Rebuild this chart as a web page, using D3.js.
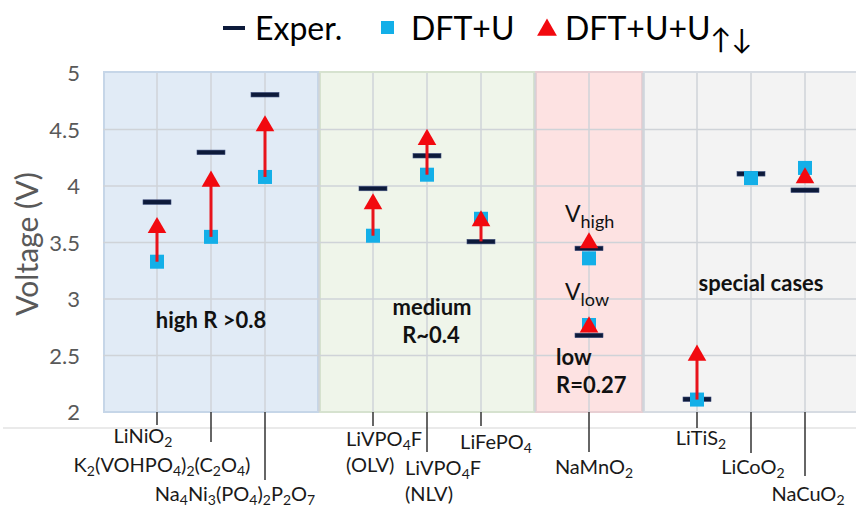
<!DOCTYPE html>
<html lang="en">
<head>
  <meta charset="UTF-8" />
  <title>Voltage comparison</title>
  <style>
    body { margin: 0; background: white; }
    svg { display: block; font-family: 'Lato', 'Open Sans', sans-serif; }
  </style>
  <script src="https://d3js.org/d3.v7.min.js"></script>
</head>
<body>
  <div id="chart"></div>
  <script>
    // data
    const pointX = [1, 2, 3, 5, 6, 7, 9, 9, 11, 12, 13];
    const exper  = [3.86, 4.30, 4.81, 3.98, 4.27, 3.51, 3.45, 2.68, 2.115, 4.11, 3.965];
    const dftU   = [3.33, 3.55, 4.08, 3.56, 4.10, 3.71, 3.36, 2.77, 2.11, 4.07, 4.16];
    const dftUU  = [3.64, 4.05, 4.54, 3.85, 4.42, 3.70, 3.505, 2.76, 2.51, null, 4.08];
    const arrowFrom = [3.33, 3.55, 4.08, 3.56, 4.10, 3.51, null, null, 2.11, null, null];

    const catX = [1, 2, 3, 5, 6, 7, 9, 11, 12, 13];
    const catLabels = [
      ["LiNiO_2"],
      ["K_2(VOHPO_4)_2(C_2O_4)"],
      ["Na_4Ni_3(PO_4)_2P_2O_7"],
      ["LiVPO_4F", "(OLV)"],
      ["LiVPO_4F", "(NLV)"],
      ["LiFePO_4"],
      ["NaMnO_2"],
      ["LiTiS_2"],
      ["LiCoO_2"],
      ["NaCuO_2"]
    ];
    // leader line end (px below axis) and label placement
    const leaderLen = [13, 30, 68, 14, 40, 14, 40, 16, 41, 64];
    const labelPos = [
      {x: 143, y: 443, anchor: "middle"},
      {x: 162, y: 472, anchor: "middle"},
      {x: 235, y: 501, anchor: "middle"},
      {x: 346, y: 446, anchor: "start"},
      {x: 405, y: 475, anchor: "start"},
      {x: 496, y: 449, anchor: "middle"},
      {x: 594, y: 474, anchor: "middle"},
      {x: 701, y: 445, anchor: "middle"},
      {x: 753, y: 474, anchor: "middle"},
      {x: 808, y: 501, anchor: "middle"}
    ];

    const regions = [
      {from: 0, to: 4, fill: "#e1ebf6", stroke: "#c6d6e8"},
      {from: 4, to: 8, fill: "#eff5ea", stroke: "#d6e2cf"},
      {from: 8, to: 10, fill: "#fde2e2", stroke: "#e8cfd3"},
      {from: 10, to: 14, fill: "#f3f3f3", stroke: "#d6dbe2"}
    ];
    const yTicks = [2, 2.5, 3, 3.5, 4, 4.5, 5];

    const width = 856, height = 508;
    const x = d3.scaleLinear().domain([0, 14]).range([103, 859]);
    const y = d3.scaleLinear().domain([2, 5]).range([412, 73]);

    const svg = d3.select("#chart").append("svg")
      .attr("width", width).attr("height", height);

    // write "A_2B" style text with subscripts into a text element
    function richText(sel, str, subSize) {
      const parts = str.split(/(_.)/).filter(s => s.length);
      let sub = false;
      parts.forEach(p => {
        if (p[0] === "_") {
          sel.append("tspan").attr("dy", sub ? 0 : 4).attr("font-size", subSize).text(p.slice(1));
          sub = true;
        } else {
          sel.append("tspan").attr("dy", sub ? -4 : 0).text(p);
          sub = false;
        }
      });
    }

    // background regions
    svg.append("g").selectAll("rect").data(regions).enter().append("rect")
      .attr("x", d => x(d.from) + 1)
      .attr("y", y(5) - 1)
      .attr("width", d => x(d.to) - x(d.from) - 2)
      .attr("height", y(2) - y(5) + 1)
      .attr("fill", d => d.fill)
      .attr("stroke", d => d.stroke)
      .attr("stroke-width", 2);

    // grid
    const grid = svg.append("g").attr("stroke", "#cfd3d8").attr("stroke-width", 1.5);
    grid.selectAll("line.h").data(yTicks.slice(1, -1)).enter().append("line")
      .attr("x1", x(0)).attr("x2", width).attr("y1", d => y(d)).attr("y2", d => y(d));
    grid.selectAll("line.v").data(d3.range(1, 14)).enter().append("line")
      .attr("y1", y(5)).attr("y2", y(2)).attr("x1", d => x(d)).attr("x2", d => x(d));

    // y axis labels
    svg.append("g").selectAll("text").data(yTicks).enter().append("text")
      .attr("x", 80).attr("y", d => y(d) + 8)
      .attr("text-anchor", "end")
      .attr("font-size", 22).attr("fill", "#595959")
      .text(d => d);

    svg.append("text")
      .attr("transform", "translate(38,244) rotate(-90)")
      .attr("text-anchor", "middle")
      .attr("font-size", 30).attr("fill", "#595959")
      .text("Voltage (V)");

    // faint category axis line
    svg.append("line").attr("x1", 3).attr("x2", width).attr("y1", 428).attr("y2", 428)
      .attr("stroke", "#e3e3e3").attr("stroke-width", 1.5);

    // leader lines and category labels
    svg.append("g").selectAll("line").data(catX).enter().append("line")
      .attr("x1", d => x(d)).attr("x2", d => x(d))
      .attr("y1", y(2)).attr("y2", (d, i) => y(2) + leaderLen[i])
      .attr("stroke", "#333").attr("stroke-width", 1.5);

    catLabels.forEach((lines, i) => {
      const p = labelPos[i];
      lines.forEach((ln, j) => {
        const t = svg.append("text")
          .attr("x", p.x).attr("y", p.y + j * 26)
          .attr("text-anchor", p.anchor)
          .attr("font-size", 20).attr("fill", "#1a1a1a");
        richText(t, ln, 14);
      });
    });

    // marks
    const idx = d3.range(pointX.length);
    svg.append("g").selectAll("rect").data(idx).enter().append("rect")
      .attr("x", i => x(pointX[i]) - 14).attr("y", i => y(exper[i]) - 2)
      .attr("width", 28).attr("height", 4.5)
      .attr("fill", "#0d1a3a").attr("stroke", "#3a4a78").attr("stroke-width", 0.6);

    svg.append("g").selectAll("rect").data(idx).enter().append("rect")
      .attr("x", i => x(pointX[i]) - 7).attr("y", i => y(dftU[i]) - 7)
      .attr("width", 14).attr("height", 14)
      .attr("fill", "#13afe8");

    svg.append("g").selectAll("line").data(idx.filter(i => arrowFrom[i] != null)).enter().append("line")
      .attr("x1", i => x(pointX[i])).attr("x2", i => x(pointX[i]))
      .attr("y1", i => y(arrowFrom[i])).attr("y2", i => y(dftUU[i]))
      .attr("stroke", "#e8131b").attr("stroke-width", 3);

    const tri = d3.symbol().type(d3.symbolTriangle).size(150);
    svg.append("g").selectAll("path").data(idx.filter(i => dftUU[i] != null)).enter().append("path")
      .attr("d", tri)
      .attr("transform", i => `translate(${x(pointX[i])},${y(dftUU[i]) + 1})`)
      .attr("fill", "#f2090f");

    // region annotations
    const bold = [
      {t: "high R >0.8", x: 211, y: 328, a: "middle"},
      {t: "medium", x: 432, y: 315, a: "middle"},
      {t: "R~0.4", x: 431, y: 343, a: "middle"},
      {t: "low", x: 556, y: 365, a: "start"},
      {t: "R=0.27", x: 556, y: 393, a: "start"},
      {t: "special cases", x: 761, y: 291, a: "middle"}
    ];
    svg.append("g").selectAll("text").data(bold).enter().append("text")
      .attr("x", d => d.x).attr("y", d => d.y).attr("text-anchor", d => d.a)
      .attr("font-size", 22).attr("font-weight", "bold").attr("fill", "#111")
      .text(d => d.t);

    [["V", "high", 222], ["V", "low", 300]].forEach(v => {
      const t = svg.append("text").attr("x", 565).attr("y", v[2])
        .attr("font-size", 23).attr("fill", "#111");
      t.append("tspan").text(v[0]);
      t.append("tspan").attr("dy", 6).attr("font-size", 18).text(v[1]);
    });

    // legend
    const lg = svg.append("g");
    lg.append("rect").attr("x", 223).attr("y", 26).attr("width", 22).attr("height", 4).attr("fill", "#0d1a3a");
    lg.append("text").attr("x", 255).attr("y", 40).attr("font-size", 32).text("Exper.");
    lg.append("rect").attr("x", 381).attr("y", 21).attr("width", 13).attr("height", 13).attr("fill", "#13afe8");
    lg.append("text").attr("x", 411).attr("y", 40).attr("font-size", 32).text("DFT+U");
    lg.append("path").attr("d", d3.symbol().type(d3.symbolTriangle).size(170))
      .attr("transform", "translate(547,30)").attr("fill", "#f2090f");
    const lt = lg.append("text").attr("x", 565).attr("y", 40).attr("font-size", 32);
    lt.append("tspan").text("DFT+U+U");
    lt.append("tspan").attr("dy", 9).attr("font-size", 28).text("↑↓");
  </script>
</body>
</html>
